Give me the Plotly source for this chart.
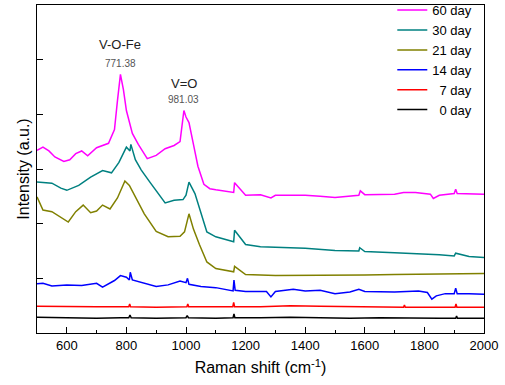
import plotly.graph_objects as go

# ---- data ----
x0 = [500, 560, 620, 700, 780, 808, 812, 816, 900, 1000, 1004, 1008, 1100, 1158, 1161, 1164, 1250, 1350, 1450, 1550, 1650, 1750, 1850, 1905, 1908, 1911, 2000]
y0 = [0.29, 0.28, 0.28, 0.27, 0.28, 0.28, 0.33, 0.28, 0.27, 0.28, 0.32, 0.28, 0.27, 0.28, 0.35, 0.28, 0.28, 0.29, 0.28, 0.27, 0.28, 0.27, 0.27, 0.27, 0.31, 0.27, 0.27]

x7 = [500, 600, 700, 808, 811, 814, 900, 1003, 1006, 1009, 1100, 1157, 1160, 1163, 1250, 1350, 1450, 1550, 1650, 1730, 1733, 1736, 1850, 1903, 1906, 1909, 2000]
y7 = [0.49, 0.48, 0.48, 0.48, 0.53, 0.48, 0.47, 0.48, 0.53, 0.48, 0.48, 0.48, 0.56, 0.48, 0.48, 0.50, 0.49, 0.48, 0.48, 0.47, 0.51, 0.47, 0.47, 0.47, 0.53, 0.47, 0.47]

x14 = [500, 520, 550, 600, 650, 700, 720, 760, 780, 800, 810, 813, 820, 850, 900, 940, 980, 1000, 1005, 1010, 1050, 1100, 1150, 1158, 1161, 1165, 1200, 1270, 1285, 1300, 1360, 1400, 1450, 1500, 1550, 1580, 1600, 1700, 1780, 1810, 1825, 1840, 1870, 1900, 1905, 1910, 1950, 2000]
y14 = [0.90, 0.91, 0.86, 0.88, 0.87, 0.91, 0.84, 0.96, 1.05, 1.02, 0.97, 1.11, 0.97, 0.92, 0.85, 0.88, 0.95, 0.92, 1.00, 0.89, 0.85, 0.83, 0.77, 0.77, 0.97, 0.78, 0.76, 0.76, 0.66, 0.76, 0.80, 0.77, 0.78, 0.72, 0.75, 0.80, 0.76, 0.75, 0.77, 0.74, 0.62, 0.68, 0.72, 0.72, 0.82, 0.72, 0.72, 0.71]

x21 = [500, 520, 550, 580, 605, 630, 655, 680, 700, 720, 745, 770, 795, 810, 830, 860, 900, 940, 980, 995, 1010, 1025, 1045, 1070, 1100, 1150, 1160, 1163, 1200, 1300, 1400, 1500, 1600, 1700, 1800, 1900, 2000]
y21 = [2.49, 2.25, 2.22, 2.12, 2.03, 2.22, 2.34, 2.20, 2.23, 2.34, 2.27, 2.47, 2.78, 2.70, 2.48, 2.18, 1.86, 1.76, 1.77, 1.85, 2.18, 1.90, 1.62, 1.30, 1.18, 1.12, 1.12, 1.22, 1.07, 1.05, 1.05, 1.05, 1.06, 1.07, 1.08, 1.09, 1.09]

x30 = [500, 520, 550, 580, 600, 640, 680, 720, 750, 775, 800, 812, 815, 830, 850, 880, 910, 930, 960, 990, 1000, 1010, 1030, 1050, 1070, 1100, 1150, 1160, 1163, 1200, 1250, 1300, 1400, 1500, 1580, 1583, 1600, 1700, 1800, 1850, 1900, 1905, 1950, 2000]
y30 = [2.76, 2.75, 2.74, 2.65, 2.61, 2.70, 2.85, 2.97, 2.93, 3.12, 3.40, 3.33, 3.45, 3.17, 2.98, 2.75, 2.52, 2.38, 2.43, 2.44, 2.52, 2.76, 2.55, 2.20, 1.85, 1.76, 1.68, 1.67, 1.88, 1.62, 1.58, 1.57, 1.55, 1.51, 1.50, 1.56, 1.49, 1.47, 1.45, 1.43, 1.41, 1.46, 1.40, 1.38]

x60 = [500, 520, 540, 560, 590, 610, 630, 650, 670, 700, 740, 760, 770, 780, 790, 800, 820, 840, 870, 900, 930, 960, 980, 993, 1000, 1010, 1025, 1040, 1060, 1080, 1100, 1150, 1160, 1163, 1200, 1250, 1285, 1300, 1400, 1450, 1500, 1580, 1585, 1600, 1700, 1730, 1770, 1820, 1830, 1850, 1900, 1905, 1910, 2000]
y60 = [3.34, 3.40, 3.33, 3.22, 3.14, 3.17, 3.28, 3.33, 3.24, 3.39, 3.47, 3.72, 4.25, 4.73, 4.45, 4.07, 3.65, 3.45, 3.19, 3.25, 3.37, 3.43, 3.50, 4.07, 3.95, 3.85, 3.45, 3.05, 2.72, 2.64, 2.62, 2.58, 2.57, 2.75, 2.52, 2.53, 2.47, 2.52, 2.52, 2.50, 2.48, 2.52, 2.60, 2.53, 2.54, 2.57, 2.57, 2.54, 2.46, 2.52, 2.55, 2.63, 2.55, 2.54]

series = [
    ("60 day", x60, y60, "#ff00ff"),
    ("30 day", x30, y30, "#008080"),
    ("21 day", x21, y21, "#808000"),
    ("14 day", x14, y14, "#0000ff"),
    ("  7 day", x7, y7, "#ff0000"),
    ("  0 day", x0, y0, "#000000"),
]

x_ticks = [600, 800, 1000, 1200, 1400, 1600, 1800, 2000]

fig = go.Figure()
for name, xs, ys, col in series:
    fig.add_trace(go.Scatter(x=xs, y=ys, mode="lines", name=name,
                             line=dict(color=col, width=1.5)))

font = "Arial, Liberation Sans, sans-serif"
fig.update_layout(
    width=505, height=385,
    margin=dict(l=37, r=21, t=5, b=52, autoexpand=False),
    paper_bgcolor="white", plot_bgcolor="white",
    font=dict(family=font, size=13, color="black"),
    showlegend=True,
    legend=dict(x=0.985, y=1.03, xanchor="right", yanchor="top",
                bgcolor="rgba(0,0,0,0)", font=dict(size=13),
                tracegroupgap=0, itemwidth=30),
    xaxis=dict(range=[500, 2000], tickvals=x_ticks, ticks="inside", ticklen=6,
               tickcolor="black", showline=True, linecolor="black", linewidth=1,
               mirror=True, showgrid=False, zeroline=False, automargin=False,
               minor=dict(dtick=100, ticks="inside", ticklen=3, tickcolor="black"),
               title=dict(text="Raman shift (cm<sup>-1</sup>)", font=dict(size=16), standoff=10),
               tickfont=dict(size=13)),
    yaxis=dict(range=[0, 6], dtick=1, ticks="inside", ticklen=6, tickcolor="black",
               showticklabels=False, showline=True, linecolor="black", linewidth=1,
               mirror=True, showgrid=False, zeroline=False, automargin=False,
               title=dict(text="Intensity (a.u.)", font=dict(size=16), standoff=2)),
)

fig.add_annotation(x=780, y=5.28, text="V-O-Fe", showarrow=False,
                   font=dict(size=13, color="#222222"))
fig.add_annotation(x=780, y=4.93, text="771.38", showarrow=False,
                   font=dict(size=10, color="#555555"))
fig.add_annotation(x=992, y=4.56, text="V=O", showarrow=False,
                   font=dict(size=13, color="#222222"))
fig.add_annotation(x=992, y=4.27, text="981.03", showarrow=False,
                   font=dict(size=10, color="#555555"))

fig.write_html("out.html")
